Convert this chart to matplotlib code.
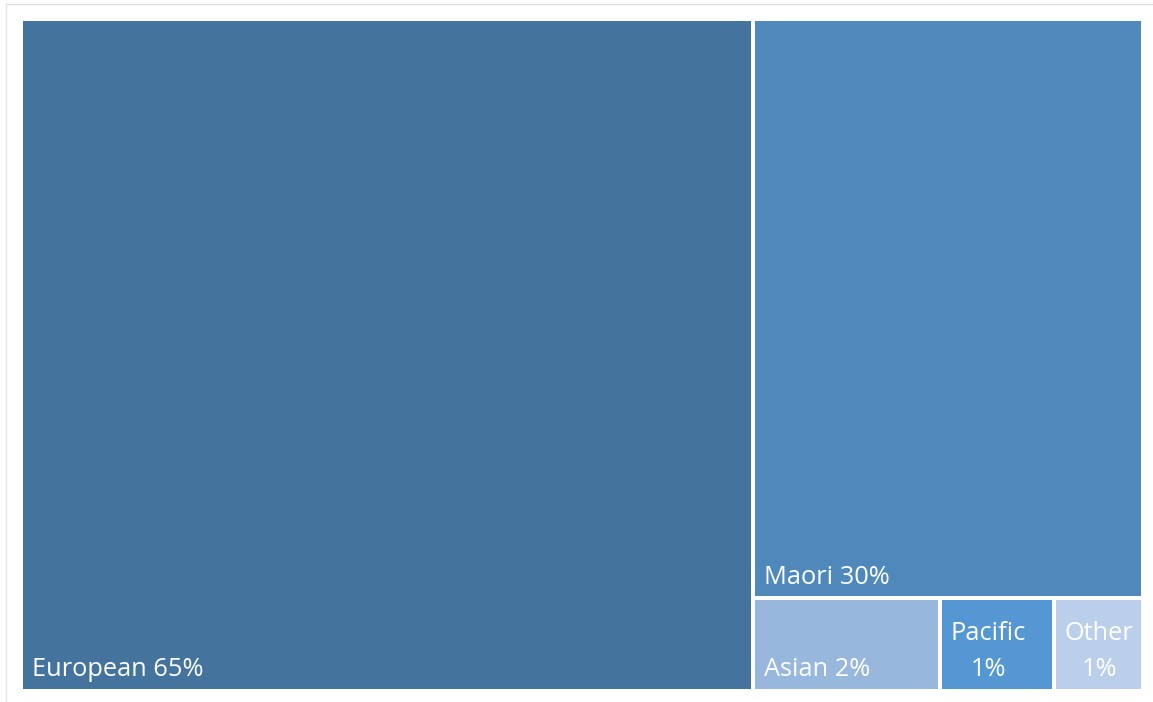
import matplotlib.pyplot as plt
from matplotlib.patches import Rectangle
from matplotlib.lines import Line2D

# data (shares of total, labels rounded)
groups = ['European', 'Maori', 'Asian', 'Pacific', 'Other']
values = [65.2, 30.0, 2.3, 1.4, 1.1]
labels = ['European 65%', 'Maori 30%', 'Asian 2%', 'Pacific\n1%', 'Other\n1%']
colors = ['#44739e', '#4f89bc', '#97b8dc', '#5597d2', '#bacfe9']

W, H = 1153, 702
fig = plt.figure(figsize=(W / 100, H / 100), dpi=100)
fig.patch.set_facecolor('white')

# faint frame from the screenshot
fig.add_artist(Line2D([6 / W, 1], [1 - 4 / H, 1 - 4 / H], color='#dedede', lw=1))
fig.add_artist(Line2D([6 / W, 6 / W], [0, 1 - 4 / H], color='#e6e6e6', lw=1))

ax = fig.add_axes([21 / W, 11 / H, 1122 / W, 672 / H])
total = sum(values)
ax.set_xlim(0, total)
ax.set_ylim(0, 1)
ax.axis('off')

# simple treemap layout: first item fills a column, second sits on top of the rest,
# the remaining items share a bottom row
rects = []
rects.append((0, 0, values[0], 1))
rest = sum(values[1:])
col_w = total - values[0]
maori_h = values[1] / rest
rects.append((values[0], 1 - maori_h, col_w, maori_h))
bottom = sum(values[2:])
cx = values[0]
for v in values[2:]:
    w = col_w * v / bottom
    rects.append((cx, 0, w, 1 - maori_h))
    cx += w

gap = 4 * 72 / 100  # 4 px in points
for (x, y, w, h), c in zip(rects, colors):
    ax.add_patch(Rectangle((x, y), w, h, facecolor=c, edgecolor='white', lw=gap))

font = 'Open Sans'
for (x, y, w, h), lab in zip(rects, labels):
    ax.annotate(lab, xy=(x, y), xytext=(8, 10.5), textcoords='offset points',
                ha='left', va='baseline', fontsize=18.3, color='white', family=font,
                linespacing=1.62, multialignment='center')

fig.savefig('out.png', dpi=100)
